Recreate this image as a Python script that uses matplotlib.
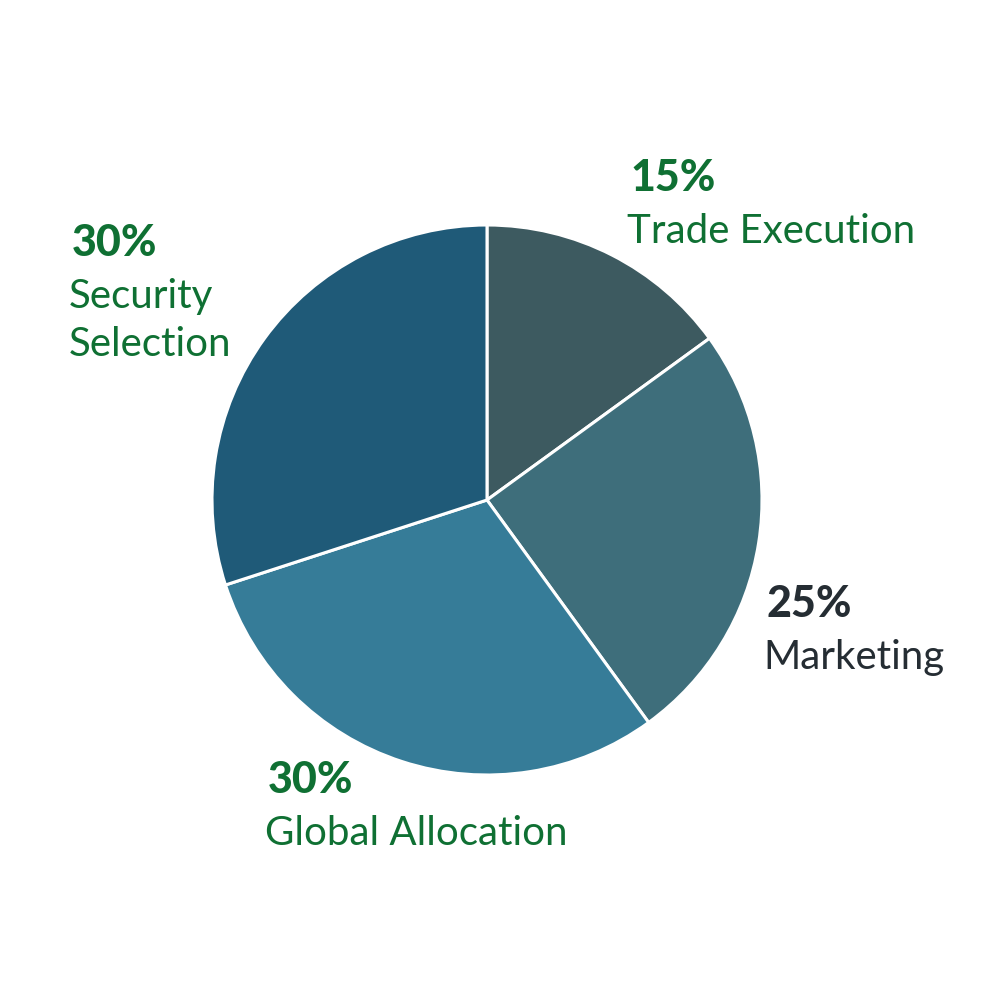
import matplotlib
matplotlib.use("Agg")
import matplotlib.pyplot as plt

# slice data, clockwise from 12 o'clock
categories = ["Trade Execution", "Marketing", "Global Allocation", "Security Selection"]
shares = [15, 25, 30, 30]
slice_colors = ["#3d5a60", "#3e6e7b", "#367c98", "#1f5a78"]

# label lines: percent on top, name below (may wrap)
pct_labels = ["15%", "25%", "30%", "30%"]
name_labels = ["Trade Execution", "Marketing", "Global Allocation", "Security\nSelection"]
label_colors = ["#0f7033", "#252d33", "#0f7033", "#0f7033"]

FONT = ["Lato", "DejaVu Sans"]

fig = plt.figure(figsize=(10, 10), dpi=100)
ax = fig.add_axes([0, 0, 1, 1])

ax.pie(shares, colors=slice_colors, startangle=90, counterclock=False,
       center=(487, 500), radius=275,
       wedgeprops=dict(edgecolor="white", linewidth=2.2))
ax.set_xlim(0, 1000)
ax.set_ylim(0, 1000)
ax.set_aspect("equal")
ax.axis("off")

# text anchors (left x, baseline y of percent line) in pixel space, y flipped
anchors = [(630, 191), (766, 617), (268, 793), (72, 256)]

for (x, y), pct, name, col in zip(anchors, pct_labels, name_labels, label_colors):
    ax.text(x, 1000 - y, pct, color=col, fontsize=31, fontweight="black",
            family=FONT, ha="left", va="baseline")
    for i, line in enumerate(name.split("\n")):
        ax.text(x - 3, 1000 - (y + 52 + i * 48), line, color=col, fontsize=29,
                family=FONT, ha="left", va="baseline")

fig.savefig("out.png", dpi=100, facecolor="white")
